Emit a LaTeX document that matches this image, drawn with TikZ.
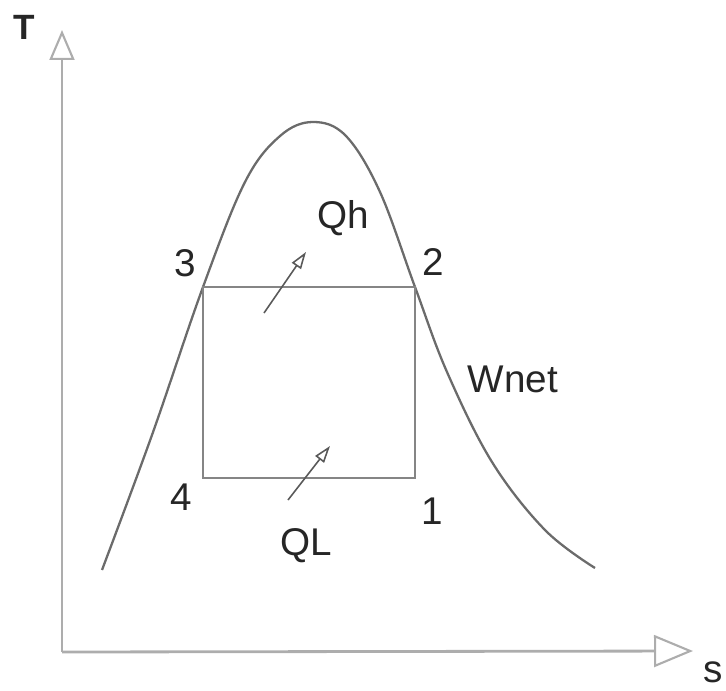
\documentclass[tikz,border=0pt]{standalone}
\usepackage{fontspec}
\setmainfont{Liberation Sans}
\usepackage{tikz}
\usetikzlibrary{arrows.meta,positioning}

\begin{document}
\begin{tikzpicture}[x=0.02cm,y=-0.02cm,
  axis/.style={draw=black!32,line width=1.6pt},
  cycle/.style={draw=black!48,line width=1.3pt},
  dome/.style={draw=black!58,line width=1.3pt},
  heat/.style={draw=black!65,line width=0.9pt,-{Triangle[open,length=0.34cm,width=0.22cm]}},
  lbl/.style={font=\fontsize{22}{24}\selectfont,text=black!85,inner sep=0pt}
]
  \useasboundingbox (0,0) rectangle (726,690);
  \coordinate (o)    at (62,652);
  \coordinate (ytip) at (62,30);
  \coordinate (xtip) at (693,651);
  \draw[axis,-{Triangle[open,length=0.6cm,width=0.5cm,line width=1.2pt]}] (o) -- (ytip);
  \draw[axis,-{Triangle[open,length=0.78cm,width=0.64cm,line width=1.2pt]}] (o) -- (xtip);
  \node[lbl,font=\fontsize{20}{22}\selectfont\bfseries] (tlab) at (24,27) {T};
  \node[lbl,anchor=east] (slab) at (723,672) {s};

  \draw[dome] plot[smooth,tension=0.6] coordinates {(102,570) (152,435) (203,287) (245,182)
    (280,136) (313,122) (346,136) (380,192) (415,287) (447,372) (492,462) (545,530) (595,568)};

  \coordinate (p1) at (415,478);
  \coordinate (p2) at (415,287);
  \coordinate (p3) at (203,287);
  \coordinate (p4) at (203,478);
  \draw[cycle] (p1) -- (p2) -- (p3) -- (p4) -- cycle;

  \node[lbl] (n1) at (432,511) {1};
  \node[lbl] (n2) at (433,262) {2};
  \node[lbl] (n3) at (185,263) {3};
  \node[lbl] (n4) at (181,497) {4};

  \coordinate (qha) at (264,313);
  \coordinate (qhb) at (306,252);
  \coordinate (qla) at (288,500);
  \coordinate (qlb) at (330,446);
  \draw[heat] (qha) -- (qhb);
  \draw[heat] (qla) -- (qlb);
  \node[lbl] (qh)   at (343,218) {Qh};
  \node[lbl] (ql)   at (306,546) {QL};
  \node[lbl] (wnet) at (513,379) {Wnet};
\end{tikzpicture}
\end{document}
